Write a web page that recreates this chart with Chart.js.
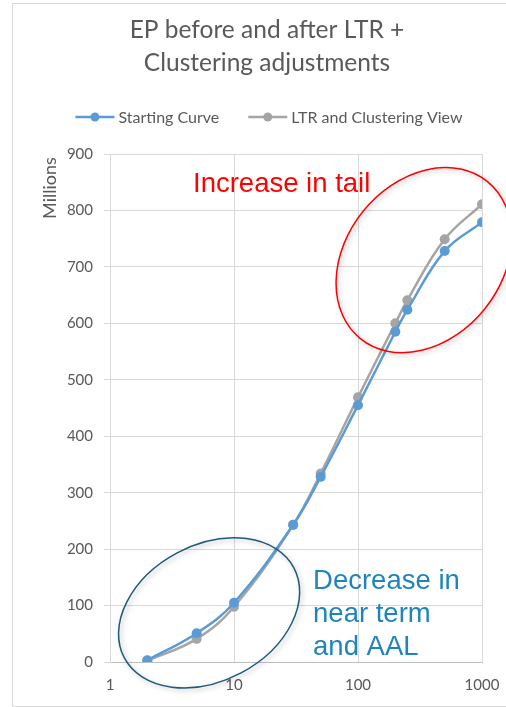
<!DOCTYPE html>
<html>
<head>
<meta charset="utf-8">
<script src="https://cdn.jsdelivr.net/npm/chart.js@4/dist/chart.umd.min.js"></script>
<style>
  html, body { margin: 0; padding: 0; background: #ffffff; overflow: hidden; }
  canvas { display: block; }
</style>
</head>
<body>
<canvas id="ep" width="506" height="707"></canvas>
<script>
// Return periods (years) and loss values (millions)
const returnPeriods = [2, 5, 10, 30, 50, 100, 200, 250, 500, 1000];
const startingCurve = [3, 51, 105, 243, 328, 455, 585, 624, 728, 779];
const ltrClusteringView = [2, 41, 98, 243, 334, 469, 600, 641, 749, 811];

const seriesNames = ['Starting Curve', 'LTR and Clustering View'];
const titleLines = ['EP before and after LTR +', 'Clustering adjustments'];
const xTickValues = [1, 10, 100, 1000];
const yTickValues = [0, 100, 200, 300, 400, 500, 600, 700, 800, 900];

const BLUE = '#5B9BD5';
const GREY = '#A5A5A5';
const TEXT = '#595959';
const GRID = '#d9d9d9';
const UI_FONT = 'Lato, "Open Sans", sans-serif';
const NOTE_FONT = '"Liberation Sans", Arial, sans-serif';

// Callout shapes, anchored in data coordinates (return period, millions)
const calloutEllipses = [
  { x: 340, y: 712, rx: 101, ry: 78, angle: -51, color: '#ff0000' },
  { x: 6.3, y: 87, rx: 96, ry: 68, angle: -28, color: '#1d5b79' }
];
const calloutTexts = [
  { x: 4.67, y: 833, lines: ['Increase in tail'], color: '#ff0000' },
  { x: 43.4, y: 129, lines: ['Decrease in', 'near term', 'and AAL'], color: '#1f84bd' }
];

const toPoints = values => returnPeriods.map((rp, i) => ({ x: rp, y: values[i] }));

// White background plus the light frame around the chart
const framePlugin = {
  id: 'frame',
  beforeDraw(chart) {
    const { ctx, width, height } = chart;
    ctx.save();
    ctx.fillStyle = '#ffffff';
    ctx.fillRect(0, 0, width, height);
    ctx.strokeStyle = GRID;
    ctx.lineWidth = 1;
    ctx.strokeRect(12.5, 3.5, width + 20, height - 4);
    ctx.restore();
  }
};

// Legend with line-and-marker samples, centred under the title
const lineLegendPlugin = {
  id: 'lineLegend',
  afterDraw(chart) {
    const { ctx } = chart;
    const y = 117;
    const sampleW = 39, textGap = 4, itemGap = 29;
    ctx.save();
    ctx.font = '16px ' + UI_FONT;
    const items = chart.data.datasets.map(ds => ({
      text: ds.label, color: ds.borderColor, w: ctx.measureText(ds.label).width
    }));
    const total = items.reduce((s, it) => s + sampleW + textGap + it.w, 0) + itemGap * (items.length - 1);
    const tb = chart.titleBlock;
    let x = (tb.left + tb.right) / 2 + 2 - total / 2;
    items.forEach(it => {
      ctx.strokeStyle = it.color;
      ctx.lineWidth = 2.5;
      ctx.beginPath();
      ctx.moveTo(x, y);
      ctx.lineTo(x + sampleW, y);
      ctx.stroke();
      ctx.fillStyle = it.color;
      ctx.beginPath();
      ctx.arc(x + sampleW / 2, y, 4.5, 0, Math.PI * 2);
      ctx.fill();
      ctx.fillStyle = TEXT;
      ctx.textAlign = 'left';
      ctx.textBaseline = 'middle';
      ctx.fillText(it.text, x + sampleW + textGap, y + 1);
      x += sampleW + textGap + it.w + itemGap;
    });
    ctx.restore();
  }
};

// Display-unit label at the top of the value axis
const unitLabelPlugin = {
  id: 'unitLabel',
  afterDraw(chart) {
    const { ctx, chartArea } = chart;
    ctx.save();
    ctx.translate(chartArea.left - 60, chartArea.top + 34);
    ctx.rotate(-Math.PI / 2);
    ctx.font = '18px ' + UI_FONT;
    ctx.fillStyle = TEXT;
    ctx.textAlign = 'center';
    ctx.textBaseline = 'middle';
    ctx.fillText('Millions', 0, 0);
    ctx.restore();
  }
};

// Hand-drawn style callouts: ellipses with a soft shadow and coloured notes
const calloutPlugin = {
  id: 'callouts',
  afterDatasetsDraw(chart) {
    const { ctx, scales: { x, y } } = chart;
    ctx.save();
    calloutEllipses.forEach(e => {
      ctx.save();
      ctx.shadowColor = 'rgba(0,0,0,0.28)';
      ctx.shadowBlur = 5;
      ctx.shadowOffsetX = 2;
      ctx.shadowOffsetY = 2;
      ctx.strokeStyle = e.color;
      ctx.lineWidth = 1.5;
      ctx.beginPath();
      ctx.ellipse(x.getPixelForValue(e.x), y.getPixelForValue(e.y), e.rx, e.ry, e.angle * Math.PI / 180, 0, Math.PI * 2);
      ctx.stroke();
      ctx.restore();
    });
    ctx.font = '27.5px ' + NOTE_FONT;
    ctx.textAlign = 'left';
    ctx.textBaseline = 'alphabetic';
    calloutTexts.forEach(t => {
      ctx.fillStyle = t.color;
      const px = x.getPixelForValue(t.x);
      const py = y.getPixelForValue(t.y);
      t.lines.forEach((line, i) => ctx.fillText(line, px, py + i * 33));
    });
    ctx.restore();
  }
};

new Chart(document.getElementById('ep'), {
  type: 'scatter',
  data: {
    datasets: [
      {
        label: seriesNames[0],
        data: toPoints(startingCurve),
        borderColor: BLUE, backgroundColor: BLUE,
        showLine: true, borderWidth: 2.5, tension: 0.4,
        pointRadius: 5, pointHoverRadius: 5, pointBorderWidth: 0
      },
      {
        label: seriesNames[1],
        data: toPoints(ltrClusteringView),
        borderColor: GREY, backgroundColor: GREY,
        showLine: true, borderWidth: 2.5, tension: 0.4,
        pointRadius: 5, pointHoverRadius: 5, pointBorderWidth: 0
      }
    ]
  },
  options: {
    responsive: false,
    animation: false,
    devicePixelRatio: 1,
    layout: { padding: { left: 52, right: 24, top: 0, bottom: 0 } },
    plugins: {
      legend: { display: false },
      tooltip: { enabled: false },
      title: {
        display: true,
        text: titleLines,
        color: TEXT,
        font: { family: UI_FONT, size: 24.5, weight: 'normal', lineHeight: 33 / 24.5 },
        padding: { top: 13.5, bottom: 74.5 }
      }
    },
    scales: {
      x: {
        type: 'logarithmic',
        min: 1, max: 1000,
        afterBuildTicks(scale) { scale.ticks = xTickValues.map(v => ({ value: v })); },
        afterFit(scale) { scale.height = 45; },
        ticks: {
          color: TEXT, font: { family: UI_FONT, size: 15 }, padding: 2,
          maxRotation: 0, autoSkip: false,
          callback: v => String(v)
        },
        grid: { color: GRID, drawTicks: true, tickLength: 12, tickColor: 'rgba(0,0,0,0)' },
        border: { color: '#bfbfbf' }
      },
      y: {
        min: 0, max: 900,
        afterBuildTicks(scale) { scale.ticks = yTickValues.map(v => ({ value: v })); },
        afterFit(scale) { scale.width = 58; },
        ticks: { color: TEXT, font: { family: UI_FONT, size: 15 }, padding: 11 },
        grid: { color: GRID, tickLength: 6 },
        border: { color: GRID }
      }
    }
  },
  plugins: [framePlugin, lineLegendPlugin, unitLabelPlugin, calloutPlugin]
});
</script>
</body>
</html>
